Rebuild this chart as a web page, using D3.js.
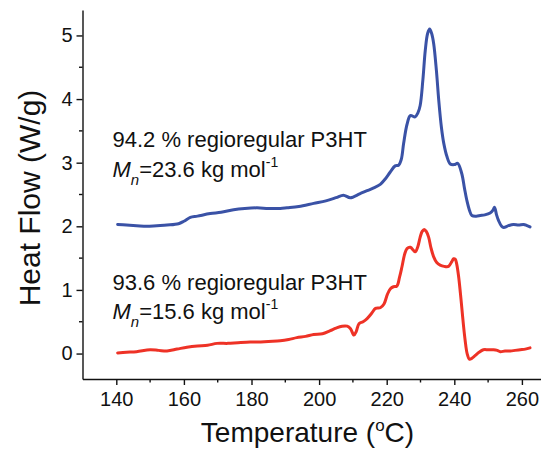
<!DOCTYPE html>
<html>
<head>
<meta charset="utf-8">
<script src="https://cdn.jsdelivr.net/npm/d3@7"></script>
<style>
  html, body { margin: 0; padding: 0; background: #fff; }
  svg { display: block; font-family: "Liberation Sans", Arial, sans-serif; }
</style>
</head>
<body>
<svg id="chart" width="543" height="458"></svg>
<script>
// ---- data ----
const xTicksMajor = [140, 160, 180, 200, 220, 240, 260];
const xTicksMinor = [150, 170, 190, 210, 230, 250];
const yTicksMajor = [0, 1, 2, 3, 4, 5];
const yTicksMinor = [0.5, 1.5, 2.5, 3.5, 4.5];

const blueT = [140.4,143,146,149,152,155,158.4,160,161.9,164,167.8,171,174.7,178,181.6,185,188.5,190.5,194,198.4,202,205,207.2,209.2,212,214.2,216,218.1,219.5,221,222.5,223.5,224.3,225,226,227,228.4,229.2,229.9,230.7,231.4,232.1,232.7,233.3,233.9,234.7,235.4,236.2,236.9,237.8,238.8,240,241,242.2,243,243.7,244.5,245.2,246.5,247.7,249,250.6,251.5,251.9,252.5,253.1,254,254.6,256,257.5,259,260.5,261.5,262.4];
const blueV = [2.03,2.02,2.01,2.00,2.01,2.02,2.04,2.08,2.14,2.16,2.20,2.22,2.26,2.28,2.29,2.28,2.28,2.29,2.31,2.36,2.40,2.45,2.49,2.45,2.51,2.56,2.60,2.66,2.74,2.85,2.95,2.96,3.05,3.30,3.60,3.74,3.72,3.78,3.90,4.30,4.76,5.03,5.10,5.03,4.87,4.45,3.98,3.55,3.30,3.10,2.98,2.97,2.99,2.83,2.60,2.41,2.25,2.17,2.16,2.17,2.18,2.21,2.26,2.30,2.18,2.09,2.00,1.98,2.01,2.03,2.02,2.03,2.01,1.99];

const redT = [140.4,143,146,150,152.5,155,158,160.9,164,167,169.8,173,176,179.6,182,185,188.5,191,193.4,196,198.4,201,203.3,205,206.8,208.3,209.3,210.3,211,211.8,213,214.2,215.5,216.7,218.1,219.2,220.2,221.1,222,223,223.8,224.5,225.3,226,227,228.4,229.2,229.9,230.5,231.1,231.7,232.4,233.1,233.9,234.8,235.8,237,238.3,239.2,239.8,240.3,240.7,241.3,241.8,242.2,242.7,243.2,243.8,244.5,245.3,246.2,247.3,248.6,250,251.6,252.7,253.6,255,256.6,258,259.5,261,262.4];
const redV = [0.01,0.02,0.03,0.06,0.05,0.04,0.07,0.10,0.12,0.13,0.16,0.16,0.17,0.18,0.18,0.19,0.20,0.22,0.25,0.27,0.30,0.31,0.36,0.40,0.43,0.43,0.39,0.29,0.35,0.47,0.50,0.55,0.63,0.71,0.72,0.78,0.93,1.02,1.05,1.06,1.20,1.36,1.56,1.65,1.67,1.60,1.68,1.83,1.92,1.95,1.92,1.83,1.66,1.52,1.43,1.39,1.37,1.37,1.44,1.49,1.48,1.41,1.20,0.95,0.73,0.45,0.21,0.00,-0.09,-0.07,-0.03,0.02,0.06,0.06,0.06,0.05,0.03,0.04,0.04,0.05,0.06,0.07,0.09];

const series = [
  { name: "94.2 % regioregular P3HT", mn: "23.6", color: "#3a52a6", T: blueT, V: blueV },
  { name: "93.6 % regioregular P3HT", mn: "15.6", color: "#ee3226", T: redT, V: redV }
];

// ---- layout ----
const svg = d3.select("#chart");
const x = d3.scaleLinear().domain([130, 265.5]).range([82.5, 540.5]);
const y = d3.scaleLinear().domain([-0.4, 5.4]).range([379, 10]);

const axisColor = "#111";

// x axis
const gx = svg.append("g").attr("transform", "translate(0,379)");
gx.call(d3.axisBottom(x).tickValues(xTicksMajor).tickSize(6).tickSizeOuter(0).tickPadding(7).tickFormat(d3.format("d")));
gx.append("g").selectAll("line").data(xTicksMinor).join("line")
  .attr("x1", d => x(d)).attr("x2", d => x(d)).attr("y1", 0).attr("y2", 3.5);
// y axis
const gy = svg.append("g").attr("transform", "translate(82.5,0)");
gy.call(d3.axisLeft(y).tickValues(yTicksMajor).tickSize(6).tickSizeOuter(0).tickPadding(4).tickFormat(d3.format("d")));
gy.append("g").selectAll("line").data(yTicksMinor).join("line")
  .attr("y1", d => y(d)).attr("y2", d => y(d)).attr("x1", 0).attr("x2", -3.5);

[gx, gy].forEach(g => {
  g.selectAll("path.domain").attr("stroke", axisColor).attr("stroke-width", 1.4);
  g.selectAll("line").attr("stroke", axisColor).attr("stroke-width", 1.4);
  g.selectAll("text").attr("font-size", 20).attr("fill", "#111")
    .attr("font-family", "'Liberation Sans', Arial, sans-serif");
});

// axis titles
const xt = svg.append("text").attr("x", 307.5).attr("y", 442).attr("text-anchor", "middle")
  .attr("font-size", 28).attr("fill", "#111");
xt.append("tspan").text("Temperature (");
xt.append("tspan").attr("font-size", 17).attr("dy", -11).text("o");
xt.append("tspan").attr("dy", 11).text("C)");

svg.append("text").attr("transform", "translate(40,198) rotate(-90)")
  .attr("text-anchor", "middle").attr("font-size", 30).attr("fill", "#111")
  .text("Heat Flow (W/g)");

// lines
const line = d3.line().x(d => x(d[0])).y(d => y(d[1])).curve(d3.curveCatmullRom.alpha(0.5));
series.forEach(s => {
  const pts = s.T.map((t, i) => [t, s.V[i]]);
  svg.append("path").datum(pts).attr("d", line)
    .attr("fill", "none").attr("stroke", s.color).attr("stroke-width", 3)
    .attr("stroke-linejoin", "round").attr("stroke-linecap", "round");
});

// annotations
const annY = [[146.7, 177.3], [290, 319.3]];
series.forEach((s, i) => {
  svg.append("text").attr("x", 112.5).attr("y", annY[i][0])
    .attr("font-size", 22).attr("fill", "#111").text(s.name);
  const t = svg.append("text").attr("x", 112.5).attr("y", annY[i][1])
    .attr("font-size", 22).attr("fill", "#111");
  t.append("tspan").attr("font-style", "italic").text("M");
  t.append("tspan").attr("font-style", "italic").attr("font-size", 15).attr("dy", 8).text("n");
  t.append("tspan").attr("dy", -8).text("=" + s.mn + " kg mol");
  t.append("tspan").attr("font-size", 14).attr("dy", -10).text("-1");
});
</script>
</body>
</html>
